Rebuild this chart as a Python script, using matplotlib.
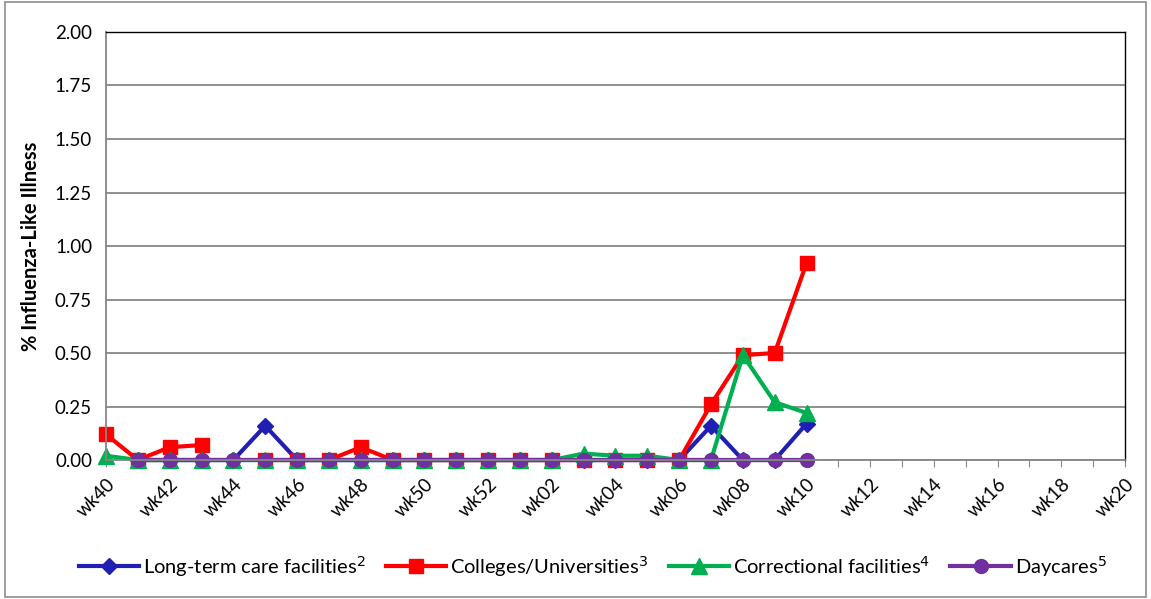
import numpy as np
import matplotlib.pyplot as plt
from matplotlib.patches import Rectangle

# Weeks of the season (wk40 .. wk20)
weeks = [f"wk{w:02d}" for w in list(range(40, 53)) + list(range(1, 21))]

nan = np.nan
# Values through wk10 (23 weeks); remaining weeks have no data
ltc = [nan, 0, 0, 0, 0, 0.16, 0, 0, 0, 0, 0, 0, 0, 0, 0, 0, 0, 0, 0, 0.16, 0, 0, 0.17]
college = [0.12, 0, 0.06, 0.07, nan, 0, 0, 0, 0.06, 0, 0, 0, 0, 0, 0, 0, 0, 0, 0, 0.26, 0.49, 0.50, 0.92]
correctional = [0.02, 0, 0, 0, 0, 0, 0, 0, 0, 0, 0, 0, 0, 0, 0, 0.03, 0.02, 0.02, 0, 0, 0.49, 0.27, 0.22]
daycare = [nan, 0, 0, 0, 0, 0, 0, 0, 0, 0, 0, 0, 0, 0, 0, 0, 0, 0, 0, 0, 0, 0, 0]

labels = ["Long-term care facilities$^{2}$", "Colleges/Universities$^{3}$",
          "Correctional facilities$^{4}$", "Daycares$^{5}$"]
colors = ["#1F1FB4", "#FF0000", "#00B050", "#7030A0"]
markers = ["D", "s", "^", "o"]
msizes = [8, 10, 11, 10]

plt.rcParams['font.family'] = ['Lato', 'DejaVu Sans']

fig = plt.figure(figsize=(11.51, 5.99), dpi=100)
fig.patches.append(Rectangle((0.004, 0.004), 0.992, 0.992, transform=fig.transFigure,
                             fill=False, edgecolor="#8C8C8C", linewidth=1.2))
ax = fig.add_axes([0.0921, 0.232, 0.8853, 0.7146])

x = np.arange(len(weeks))
for vals, lab, c, m, ms in zip([ltc, college, correctional, daycare], labels, colors, markers, msizes):
    ax.plot(x[:len(vals)], vals, color=c, marker=m, markersize=ms, linewidth=3,
            label=lab, clip_on=False)

ax.set_xlim(0, len(weeks) - 1)
ax.set_ylim(0, 2.0)
ax.set_yticks(np.arange(0, 2.01, 0.25))
ax.set_yticklabels([f"{v:.2f}" for v in np.arange(0, 2.01, 0.25)], fontsize=13.5)
ax.set_xticks(x)
ax.set_xticklabels([w if i % 2 == 0 else "" for i, w in enumerate(weeks)],
                   rotation=45, ha="right", va="top", fontsize=13.5, rotation_mode="anchor")
ax.tick_params(axis="x", length=5, color="#868686", direction="out", pad=6)
ax.tick_params(axis="y", length=0, pad=10)

ax.grid(axis="y", color="#868686", linewidth=1.3)
ax.set_axisbelow(True)
for s in ["left", "bottom"]:
    ax.spines[s].set_color("#868686")
    ax.spines[s].set_linewidth(1.3)
for s in ["top", "right"]:
    ax.spines[s].set_color("black")
    ax.spines[s].set_linewidth(1.0)

ax.set_ylabel("% Influenza-Like Illness", fontsize=14.5, fontweight="bold", labelpad=10)

fig.legend(loc="center", bbox_to_anchor=(0.515, 0.055), ncol=4, frameon=False,
           fontsize=14.5, handlelength=3, columnspacing=1.0, handletextpad=0.2)

fig.savefig("out.png", dpi=100)
